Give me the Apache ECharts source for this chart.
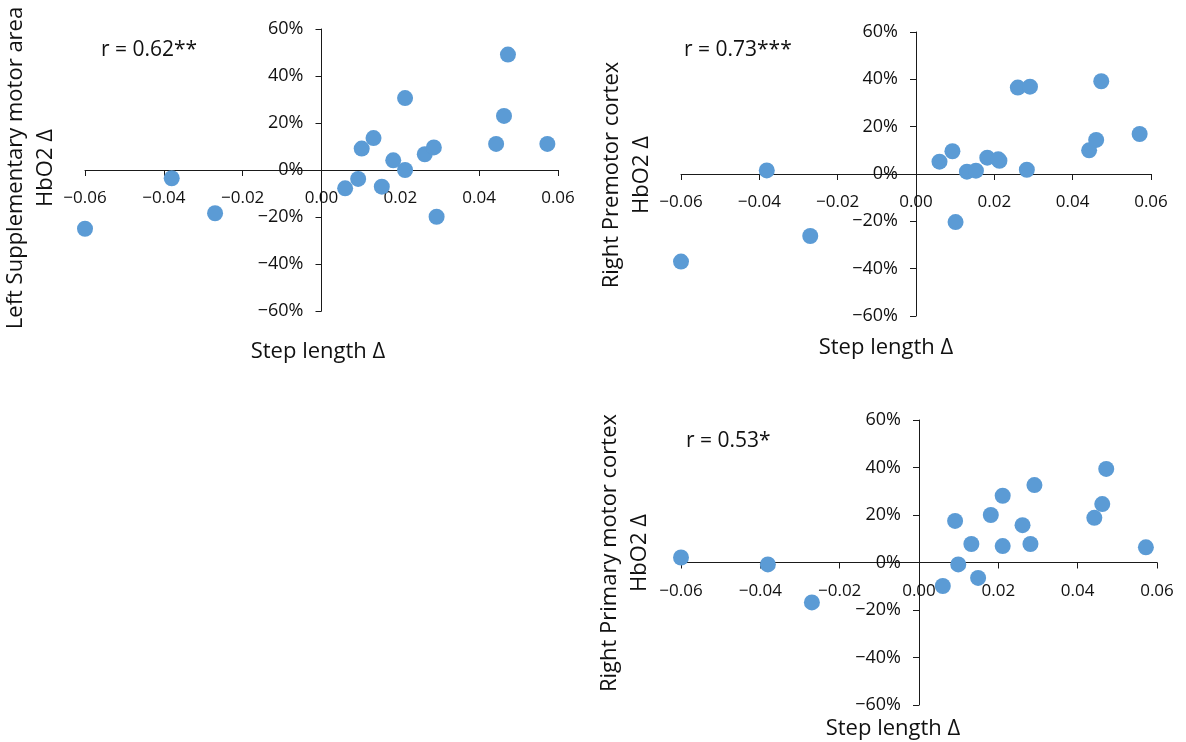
<!DOCTYPE html>
<html>
<head>
<meta charset="utf-8">
<script src="https://cdn.jsdelivr.net/npm/echarts@6/dist/echarts.min.js"></script>
<style>
html, body { margin: 0; padding: 0; background: #fff; }
#chart { width: 1186px; height: 742px; }
</style>
</head>
<body>
<div id="chart"></div>
<script>
// step length change (x) and HbO2 change in % (y), one pair of arrays per panel
var smaX = [-0.060, -0.038, -0.027, 0.006, 0.0093, 0.0102, 0.0132, 0.0153, 0.0182, 0.0212, 0.0212, 0.0262, 0.0285, 0.0292, 0.0443, 0.0463, 0.0473, 0.0573];
var smaY = [-25.0, -3.5, -18.4, -7.8, -3.8, 9.1, 13.6, -7.1, 4.1, 30.6, 0.0, 6.7, 9.6, -19.9, 11.1, 23.0, 49.1, 11.1];

var pmcX = [-0.060, -0.0381, -0.027, 0.006, 0.0093, 0.0101, 0.013, 0.0153, 0.0182, 0.0213, 0.0210, 0.026, 0.0283, 0.0291, 0.0442, 0.046, 0.0473, 0.0571];
var pmcY = [-37.0, 1.5, -26.2, 5.2, 9.6, -20.3, 1.0, 1.4, 6.9, 5.6, 6.2, 36.5, 1.8, 36.9, 10.0, 14.4, 39.2, 16.9];

var m1X = [-0.060, -0.0381, -0.027, 0.006, 0.0091, 0.0099, 0.0132, 0.0149, 0.0181, 0.0211, 0.0211, 0.0261, 0.0281, 0.0291, 0.0442, 0.0462, 0.0472, 0.0572];
var m1Y = [2.1, -0.8, -16.8, -9.9, 17.5, -0.8, 7.8, -6.5, 20.0, 28.1, 6.9, 15.7, 7.8, 32.6, 18.8, 24.6, 39.4, 6.4];

var xTicks = { min: -0.06, max: 0.06, step: 0.02 };
var yTicks = { min: -60, max: 60, step: 20 };

var panels = [
    { x: smaX, y: smaY, r: 'r = 0.62**', yName: ['Left Supplementary motor area', 'HbO2 Δ'] },
    { x: pmcX, y: pmcY, r: 'r = 0.73***', yName: ['Right Premotor cortex', 'HbO2 Δ'] },
    { x: m1X, y: m1Y, r: 'r = 0.53*', yName: ['Right Primary motor cortex', 'HbO2 Δ'] }
];

// where each panel sits on the page
var layout = [
    { left: 85, top: 29, width: 473, height: 282, xTitle: [318, 352], yTitle: [16, 46, 168], r: [101, 50] },
    { left: 681, top: 32, width: 470, height: 284, xTitle: [886, 348], yTitle: [612, 642, 175], r: [684, 50] },
    { left: 681, top: 420, width: 476, height: 285, xTitle: [893, 729], yTitle: [610, 640, 553], r: [686, 441] }
];

var FONT = '"Open Sans", "Noto Sans", sans-serif';
var AXIS_COLOR = '#1a1a1a';

function minus(s) {
    return String(s).replace('-', '\u2212');
}

var option = {
    animation: false,
    backgroundColor: '#fff',
    grid: [],
    xAxis: [],
    yAxis: [],
    series: [],
    graphic: []
};

panels.forEach(function (p, i) {
    var l = layout[i];
    option.grid.push({ left: l.left, top: l.top, width: l.width, height: l.height, containLabel: false });
    // axes cross in the middle of the grid (zero is the centre of both ranges),
    // so shift them inward by half the grid size, labels included
    option.xAxis.push({
        type: 'value',
        gridIndex: i,
        position: 'bottom',
        offset: -l.height / 2,
        min: xTicks.min,
        max: xTicks.max,
        interval: xTicks.step,
        axisLine: { onZero: false, lineStyle: { color: AXIS_COLOR, width: 1 } },
        axisTick: { show: true, inside: false, length: 6, lineStyle: { color: AXIS_COLOR } },
        axisLabel: {
            margin: 20,
            color: '#111',
            fontSize: 17,
            fontFamily: FONT,
            formatter: function (v) { return minus(v.toFixed(2)); }
        },
        splitLine: { show: false }
    });
    option.yAxis.push({
        type: 'value',
        gridIndex: i,
        position: 'left',
        offset: -l.width / 2,
        min: yTicks.min,
        max: yTicks.max,
        interval: yTicks.step,
        axisLine: { show: true, onZero: false, lineStyle: { color: AXIS_COLOR, width: 1 } },
        axisTick: { show: true, inside: false, length: 6, lineStyle: { color: AXIS_COLOR } },
        axisLabel: {
            margin: 18,
            color: '#111',
            fontSize: 18,
            fontFamily: FONT,
            formatter: function (v) { return minus(Math.round(v) + '%'); }
        },
        splitLine: { show: false }
    });
    option.series.push({
        type: 'scatter',
        xAxisIndex: i,
        yAxisIndex: i,
        symbolSize: 16,
        itemStyle: { color: '#5B9BD5', opacity: 1 },
        data: p.x.map(function (x, k) { return [x, p.y[k]]; })
    });

    // axis titles and r value
    option.graphic.push({
        type: 'text',
        x: l.xTitle[0], y: l.xTitle[1],
        style: { text: 'Step length Δ', font: '22px ' + FONT, fill: '#111', align: 'center', verticalAlign: 'middle' }
    });
    option.graphic.push({
        type: 'text',
        x: l.yTitle[0], y: l.yTitle[2],
        rotation: Math.PI / 2,
        style: { text: p.yName[0], font: '22px ' + FONT, fill: '#111', align: 'center', verticalAlign: 'middle' }
    });
    option.graphic.push({
        type: 'text',
        x: l.yTitle[1], y: l.yTitle[2],
        rotation: Math.PI / 2,
        style: { text: p.yName[1], font: '22px ' + FONT, fill: '#111', align: 'center', verticalAlign: 'middle' }
    });
    option.graphic.push({
        type: 'text',
        x: l.r[0], y: l.r[1],
        style: { text: p.r, font: '21px ' + FONT, fill: '#111', align: 'left', verticalAlign: 'middle' }
    });
});

var chart = echarts.init(document.getElementById('chart'), null, { renderer: 'canvas' });
chart.setOption(option);
</script>
</body>
</html>
